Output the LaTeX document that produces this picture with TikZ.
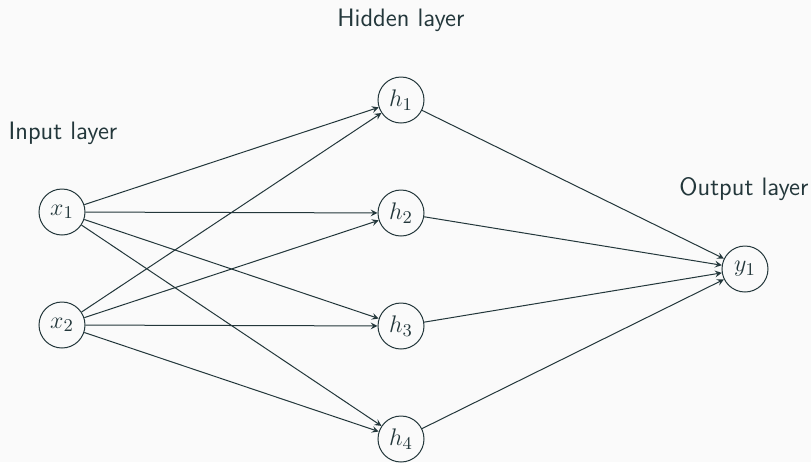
\documentclass[tikz,border=0pt]{standalone}
\renewcommand{\familydefault}{\sfdefault}
\usetikzlibrary{arrows}
\definecolor{ink}{HTML}{23373B}
\definecolor{paper}{HTML}{FAFAFA}
\begin{document}
\begin{tikzpicture}[x=0.5pt,y=-0.5pt,
  font=\fontsize{12.6}{15}\selectfont,
  neuron/.style={circle,draw=ink,text=ink,minimum size=23pt,inner sep=0pt,line width=0.5pt},
  layerlabel/.style={text=ink,font=\fontsize{12.6}{15}\sffamily\selectfont},
  link/.style={draw=ink,line width=0.5pt,-stealth}]
  \fill[paper] (0,0) rectangle (811,462);
  \useasboundingbox (0,0) rectangle (811,462);
  % input layer
  \node[neuron] (x1) at (62,212) {$x_1$};
  \node[neuron] (x2) at (62,325) {$x_2$};
  % hidden layer
  \node[neuron] (h1) at (401,100) {$h_1$};
  \node[neuron] (h2) at (401,213) {$h_2$};
  \node[neuron] (h3) at (401,326) {$h_3$};
  \node[neuron] (h4) at (401,439) {$h_4$};
  % output layer
  \node[neuron] (y1) at (745,269) {$y_1$};
  % layer titles
  \node[layerlabel] (tin)  at (63,133) {Input layer};
  \node[layerlabel] (thid) at (401,20) {Hidden layer};
  \node[layerlabel] (tout) at (744,189) {Output layer};
  % connections
  \foreach \i in {x1,x2}
    \foreach \j in {h1,h2,h3,h4}
      \draw[link] (\i) -- (\j);
  \foreach \j in {h1,h2,h3,h4}
    \draw[link] (\j) -- (y1);
\end{tikzpicture}
\end{document}
